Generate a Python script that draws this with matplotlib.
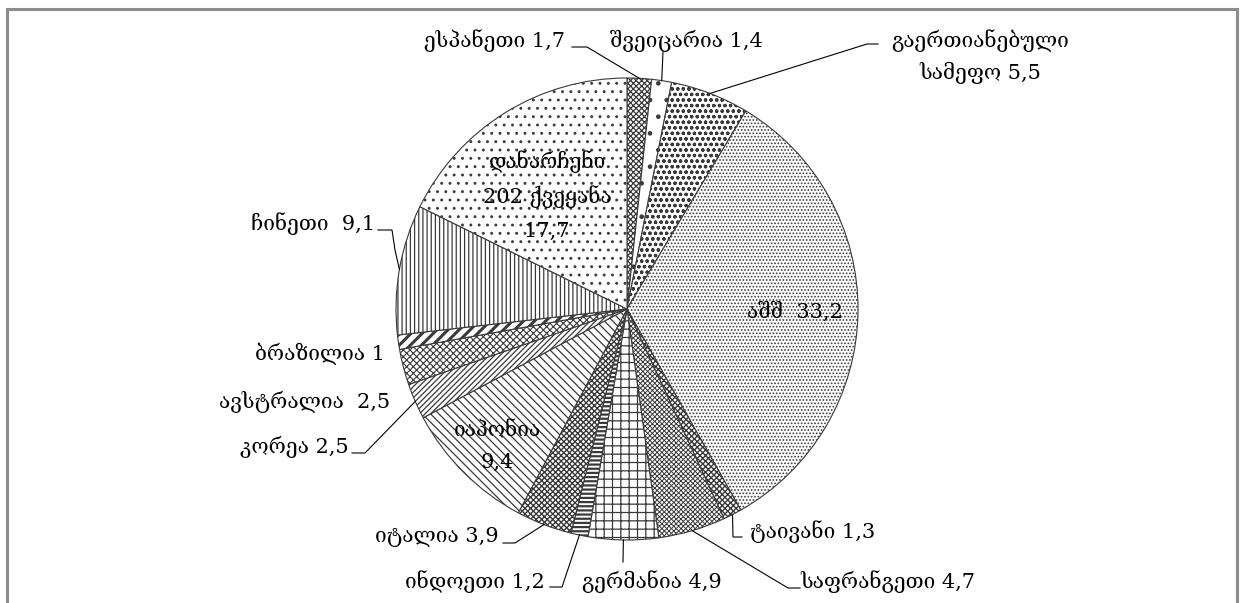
import numpy as np
import matplotlib
matplotlib.use('Agg')
import matplotlib.pyplot as plt

# share of each country, clockwise from 12 o'clock
countries = ['ესპანეთი', 'შვეიცარია', 'გაერთიანებული სამეფო', 'აშშ', 'ტაივანი',
             'საფრანგეთი', 'გერმანია', 'ინდოეთი', 'იტალია', 'იაპონია',
             'კორეა', 'ავსტრალია', 'ბრაზილია', 'ჩინეთი', 'დანარჩენი 202 ქვეყანა']
shares = [1.7, 1.4, 5.5, 33.2, 1.3, 4.7, 4.9, 1.2, 3.9, 9.4, 2.5, 2.5, 1, 9.1, 17.7]
share_txt = ['1,7', '1,4', '5,5', '33,2', '1,3', '4,7', '4,9', '1,2', '3,9', '9,4',
             '2,5', '2,5', '1', '9,1', '17,7']

hatches = ['xxxxxx', '.', 'ooo', '.....', 'xxxxxx', 'xxxxxxx', '++', '----', 'xxxxxx',
           '\\\\\\\\', '//////', 'xxxxx', '///', '||||', '..']
hatch_lw = [0.9, 0.9, 0.9, 0.8, 1.0, 0.7, 0.9, 1.6, 1.0,
            0.9, 0.9, 0.8, 2.2, 0.9, 0.9]

W, H = 1246, 603
plt.rcParams['font.family'] = ['DejaVu Serif', 'DejaVu Sans']
plt.rcParams['hatch.linewidth'] = 0.9
plt.rcParams['hatch.color'] = 'black'

fig = plt.figure(figsize=(W / 100, H / 100), dpi=100)
ax = fig.add_axes([0, 0, 1, 1])

def py(y):
    # pixel row -> data y
    return H - y

cx, cy, r = 627, py(309), 231
wedges, _ = ax.pie(shares, center=(cx, cy), radius=r, startangle=90,
                   counterclock=False, hatch=hatches,
                   wedgeprops=dict(facecolor='white', edgecolor='#3a3a3a', linewidth=0.8))
for w, lw in zip(wedges, hatch_lw):
    if hasattr(w, 'set_hatch_linewidth'):
        w.set_hatch_linewidth(lw)
ax.set_xlim(0, W)
ax.set_ylim(0, H)
ax.set_aspect('equal')
ax.axis('off')

def edge_pt(i):
    w = wedges[i]
    a = np.deg2rad((w.theta1 + w.theta2) / 2)
    return cx + r * np.cos(a), cy + r * np.sin(a)

fs = 15

def lab(i, x, y, ha, txt=None):
    if txt is None:
        txt = countries[i] + ' ' + share_txt[i]
    ax.text(x, py(y), txt, ha=ha, va='baseline', fontsize=fs)

def leader(i, pts):
    ex, ey = edge_pt(i)
    xs = [ex] + [p[0] for p in pts]
    ys = [ey] + [py(p[1]) for p in pts]
    ax.plot(xs, ys, color='black', lw=0.8)

# outside labels
lab(0, 565, 47, 'right')
leader(0, [(587, 47), (572, 47)])
lab(1, 610, 47, 'left')
leader(1, [(663, 52)])
ax.text(980, py(47), 'გაერთიანებული', ha='center', va='baseline', fontsize=fs)
ax.text(980, py(79), 'სამეფო ' + share_txt[2], ha='center', va='baseline', fontsize=fs)
leader(2, [(867, 44), (878, 44)])
lab(4, 750, 538, 'left')
leader(4, [(733, 537), (742, 537)])
lab(5, 800, 588, 'left')
leader(5, [(788, 588), (800, 588)])
lab(6, 582, 588, 'left')
leader(6, [(623, 562)])
lab(7, 545, 588, 'right')
leader(7, [(562, 587), (550, 587)])
lab(8, 499, 542, 'right')
leader(8, [(515, 543), (503, 543)])
lab(10, 349, 453, 'right')
leader(10, [(365, 453), (352, 453)])
ax.text(390, py(408), countries[11] + '  ' + share_txt[11], ha='right', va='baseline', fontsize=fs)
lab(12, 385, 360, 'right')
ax.text(375, py(230), countries[13] + '  ' + share_txt[13], ha='right', va='baseline', fontsize=fs)
leader(13, [(395, 250), (392, 230), (378, 230)])

# inside labels
ax.text(747, py(318), countries[3] + '  ' + share_txt[3], ha='left', va='baseline', fontsize=fs)
ax.text(497, py(436), countries[9], ha='center', va='baseline', fontsize=fs)
ax.text(497, py(468), share_txt[9], ha='center', va='baseline', fontsize=fs)
ax.text(547, py(168), 'დანარჩენი', ha='center', va='baseline', fontsize=fs)
ax.text(547, py(203), '202 ქვეყანა', ha='center', va='baseline', fontsize=fs)
ax.text(547, py(237), share_txt[14], ha='center', va='baseline', fontsize=fs)

# grey frame, open at the bottom
ax.plot([7, 7, 1237, 1237], [0, py(9), py(9), 0], color='#8c8c8c', lw=2.2,
        solid_joinstyle='miter')

fig.savefig('out.png', dpi=100)
